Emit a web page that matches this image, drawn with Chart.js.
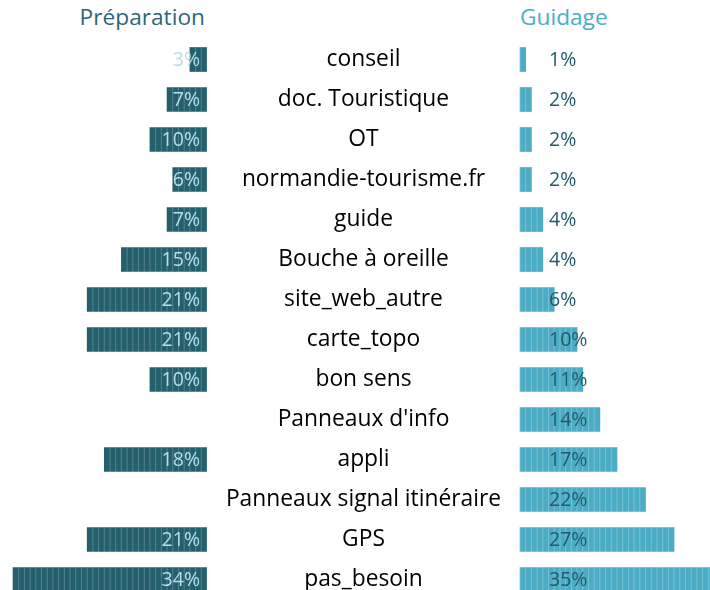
<!DOCTYPE html>
<html>
<head>
<meta charset="utf-8">
<script src="https://cdn.jsdelivr.net/npm/chart.js@4"></script>
<style>
  html, body { margin: 0; padding: 0; background: #fff; overflow: hidden; }
  body { width: 710px; height: 590px; position: relative; font-family: "Open Sans", sans-serif; }
  .titre { position: absolute; top: 2px; font-size: 22.7px; line-height: 30px; }
  #t-prep { right: 505px; color: #2e6676; }
  #t-guid { left: 520px; color: #4bacc6; }
  #box-left { position: absolute; left: 0; top: 0; width: 207px; height: 590px; }
  #box-right { position: absolute; left: 207px; top: 0; width: 503px; height: 590px; }
</style>
</head>
<body>
<div class="titre" id="t-prep">Préparation</div>
<div class="titre" id="t-guid">Guidage</div>
<div id="box-left"><canvas id="chartPrep"></canvas></div>
<div id="box-right"><canvas id="chartGuid"></canvas></div>
<script>
const categories = ['conseil', 'doc. Touristique', 'OT', 'normandie-tourisme.fr', 'guide',
  'Bouche à oreille', 'site_web_autre', 'carte_topo', 'bon sens', "Panneaux d'info",
  'appli', 'Panneaux signal itinéraire', 'GPS', 'pas_besoin'];
const preparation = [3, 7, 10, 6, 7, 15, 21, 21, 10, null, 18, null, 21, 34];
const guidage = [1, 2, 2, 2, 4, 4, 6, 10, 11, 14, 17, 22, 27, 35];

const darkTeal = '#245f6d';
const lightBlue = '#4bacc6';
const catFont = { family: 'Open Sans', size: 22.8, lineHeight: 0.8 };

// largeur du plus long libellé, pour centrer la colonne du milieu
const mctx = document.createElement('canvas').getContext('2d');
mctx.font = catFont.size + 'px "' + catFont.family + '"';
const widest = Math.max(...categories.map(c => mctx.measureText(c).width));
const middleWidth = 313;

// petites barres verticales tous les 1%
const stripes = {
  id: 'stripes',
  afterDatasetsDraw(chart, args, opts) {
    const ctx = chart.ctx;
    const xs = chart.scales.x;
    const meta = chart.getDatasetMeta(0);
    ctx.save();
    ctx.strokeStyle = opts.color;
    ctx.lineWidth = 1;
    meta.data.forEach((bar, i) => {
      const v = chart.data.datasets[0].data[i];
      if (v == null) return;
      const top = bar.y - bar.height / 2;
      const bottom = bar.y + bar.height / 2;
      for (let k = 0; k < v; k++) {
        const x = xs.getPixelForValue(k);
        ctx.beginPath();
        ctx.moveTo(x, top);
        ctx.lineTo(x, bottom);
        ctx.stroke();
      }
    });
    ctx.restore();
  }
};

const valueLabels = {
  id: 'valueLabels',
  afterDatasetsDraw(chart, args, opts) {
    const ctx = chart.ctx;
    const meta = chart.getDatasetMeta(0);
    ctx.save();
    ctx.font = '19.5px "Open Sans"';
    ctx.fillStyle = opts.color;
    ctx.textBaseline = 'middle';
    ctx.textAlign = opts.align;
    meta.data.forEach((bar, i) => {
      const v = chart.data.datasets[0].data[i];
      if (v == null) return;
      const x = opts.align === 'right' ? chart.chartArea.right - 7 : chart.chartArea.left + 29;
      ctx.fillText(v + '%', x, bar.y + 1);
    });
    ctx.restore();
  }
};

const pxPerUnit = 194 / 34;

new Chart(document.getElementById('chartPrep'), {
  type: 'bar',
  data: {
    labels: categories,
    datasets: [{
      data: preparation,
      backgroundColor: darkTeal,
      barThickness: 24,
      clip: false
    }]
  },
  options: {
    indexAxis: 'y',
    responsive: true,
    maintainAspectRatio: false,
    animation: false,
    layout: { padding: { top: 59.5, bottom: 10.5, left: 0, right: 0 } },
    scales: {
      x: { reverse: true, min: 0, max: 207 / pxPerUnit, display: false },
      y: { display: false, offset: false }
    },
    plugins: {
      legend: { display: false },
      tooltip: { enabled: false },
      stripes: { color: 'rgba(255,255,255,0.22)' },
      valueLabels: { color: '#b7dee8', align: 'right' }
    }
  },
  plugins: [stripes, valueLabels]
});

new Chart(document.getElementById('chartGuid'), {
  type: 'bar',
  data: {
    labels: categories,
    datasets: [{
      data: guidage,
      backgroundColor: lightBlue,
      barThickness: 24,
      clip: false
    }]
  },
  options: {
    indexAxis: 'y',
    responsive: true,
    maintainAspectRatio: false,
    animation: false,
    layout: { padding: { top: 59.5, bottom: 10.5, left: 0, right: 0 } },
    scales: {
      x: { min: 0, max: 190 / pxPerUnit, display: false },
      y: {
        offset: false,
        // tickLength (invisible) sert de décalage pour centrer les libellés
        grid: { display: false, drawTicks: true, tickLength: middleWidth / 2 - widest / 2 },
        border: { display: false },
        ticks: {
          crossAlign: 'center',
          padding: 0,
          color: '#000',
          font: catFont
        },
        afterFit(scale) { scale.width = middleWidth; }
      }
    },
    plugins: {
      legend: { display: false },
      tooltip: { enabled: false },
      stripes: { color: 'rgba(255,255,255,0.25)' },
      valueLabels: { color: '#235a69', align: 'left' }
    }
  },
  plugins: [stripes, valueLabels]
});
</script>
</body>
</html>
